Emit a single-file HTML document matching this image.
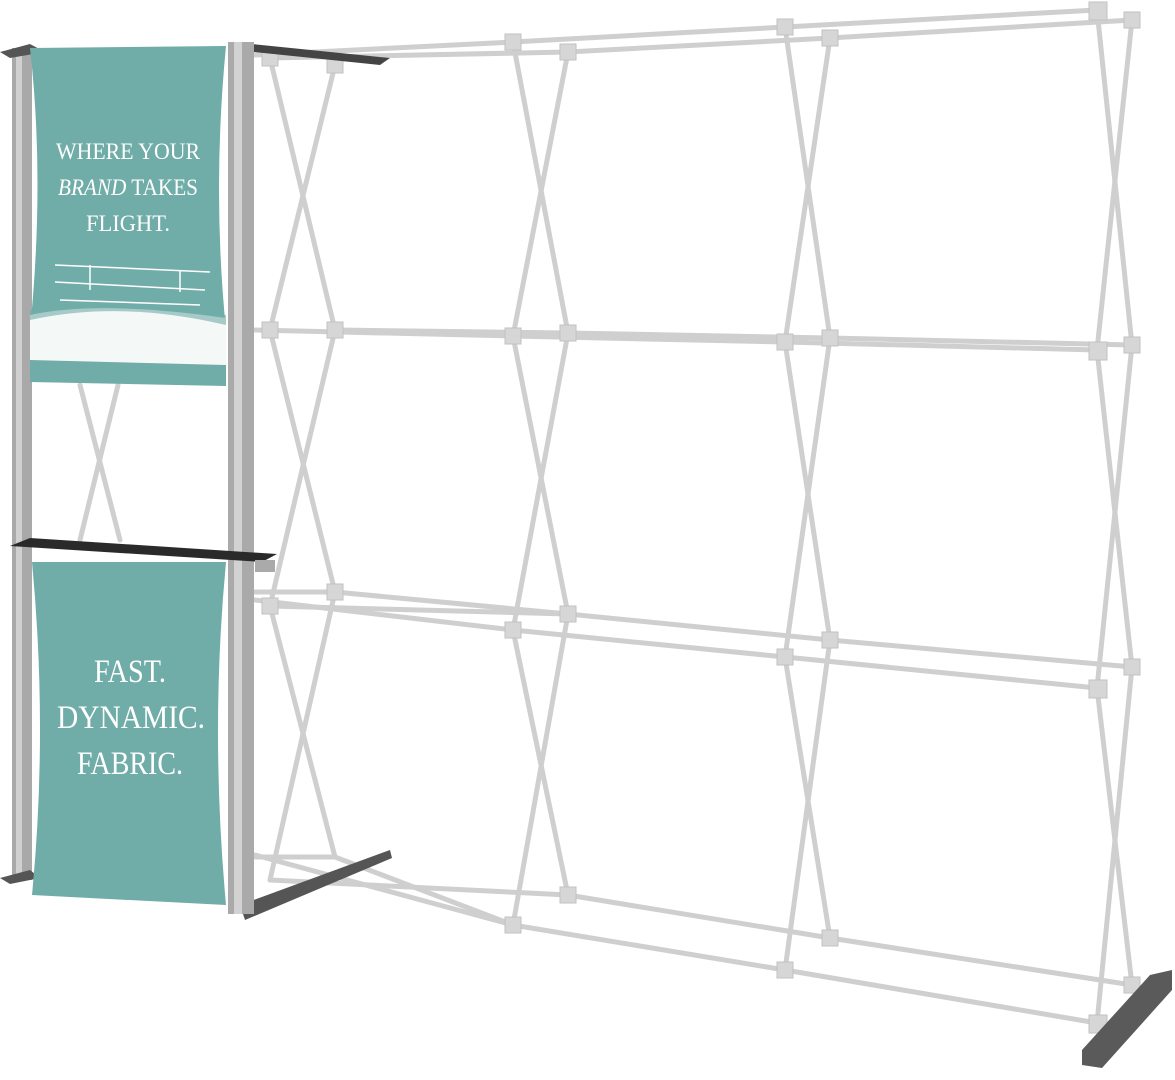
<!DOCTYPE html>
<html><head><meta charset="utf-8"><style>
html,body{margin:0;padding:0;background:#fff;width:1175px;height:1080px;overflow:hidden}
svg{display:block}
</style></head><body>
<svg width="1175" height="1080" viewBox="0 0 1175 1080" xmlns="http://www.w3.org/2000/svg">
<g stroke="#cfcfcf" stroke-width="5" fill="none" stroke-linecap="round">
<polyline points="255,55 513,42 785,27 1097,10"/>
<polyline points="270,58 568,52 830,38 1132,20"/>
<polyline points="255,330 513,336 785,342 1097,350"/>
<polyline points="335,330 568,333 830,338 1132,345"/>
<polyline points="255,600 513,630 785,657 1097,688"/>
<polyline points="270,606 568,614 830,640 1132,667"/>
<polyline points="255,592 335,592 568,614"/>
<polyline points="255,855 513,925 785,970 1097,1023"/>
<polyline points="270,880 568,895 830,938 1132,985"/>
<polyline points="255,857 335,857 513,925"/>
<line x1="270" y1="58" x2="335" y2="330"/><line x1="335" y1="65" x2="270" y2="330"/>
<line x1="270" y1="330" x2="335" y2="592"/><line x1="335" y1="330" x2="270" y2="606"/>
<line x1="270" y1="606" x2="335" y2="857"/><line x1="335" y1="592" x2="270" y2="880"/>
<line x1="513" y1="42" x2="568" y2="333"/><line x1="568" y1="52" x2="513" y2="336"/>
<line x1="513" y1="336" x2="568" y2="614"/><line x1="568" y1="333" x2="513" y2="630"/>
<line x1="513" y1="630" x2="568" y2="895"/><line x1="568" y1="614" x2="513" y2="925"/>
<line x1="785" y1="27" x2="830" y2="338"/><line x1="830" y1="38" x2="785" y2="342"/>
<line x1="785" y1="342" x2="830" y2="640"/><line x1="830" y1="338" x2="785" y2="657"/>
<line x1="785" y1="657" x2="830" y2="938"/><line x1="830" y1="640" x2="785" y2="970"/>
<line x1="1097" y1="10" x2="1132" y2="345"/><line x1="1132" y1="20" x2="1097" y2="350"/>
<line x1="1097" y1="350" x2="1132" y2="667"/><line x1="1132" y1="345" x2="1097" y2="688"/>
<line x1="1097" y1="688" x2="1132" y2="985"/><line x1="1132" y1="667" x2="1097" y2="1023"/>
<line x1="80" y1="385" x2="120" y2="540"/><line x1="118" y1="385" x2="80" y2="540"/>
</g>
<g fill="#d6d6d6" stroke="#c2c2c2" stroke-width="1">
<rect x="505" y="34" width="16" height="16"/><rect x="560" y="44" width="16" height="16"/>
<rect x="777" y="19" width="16" height="16"/><rect x="822" y="30" width="16" height="16"/>
<rect x="1089" y="2" width="18" height="18"/><rect x="1124" y="12" width="16" height="16"/>
<rect x="327" y="57" width="16" height="16"/><rect x="262" y="50" width="16" height="16"/>
<rect x="505" y="328" width="16" height="16"/><rect x="560" y="325" width="16" height="16"/>
<rect x="777" y="334" width="16" height="16"/><rect x="822" y="330" width="16" height="16"/>
<rect x="1089" y="342" width="18" height="18"/><rect x="1124" y="337" width="16" height="16"/>
<rect x="327" y="322" width="16" height="16"/><rect x="262" y="322" width="16" height="16"/>
<rect x="505" y="622" width="16" height="16"/><rect x="560" y="606" width="16" height="16"/>
<rect x="777" y="649" width="16" height="16"/><rect x="822" y="632" width="16" height="16"/>
<rect x="1089" y="680" width="18" height="18"/><rect x="1124" y="659" width="16" height="16"/>
<rect x="327" y="584" width="16" height="16"/><rect x="262" y="598" width="16" height="16"/>
<rect x="505" y="917" width="16" height="16"/><rect x="560" y="887" width="16" height="16"/>
<rect x="777" y="962" width="16" height="16"/><rect x="822" y="930" width="16" height="16"/>
<rect x="1089" y="1015" width="18" height="18"/><rect x="1124" y="977" width="16" height="16"/>
</g>
<polygon points="1082,1050 1150,975 1172,970 1172,990 1102,1068 1082,1065" fill="#5a5a5a"/>
<polygon points="240,905 390,850 392,858 245,920" fill="#555"/>
<polygon points="232,42 390,58 380,65 235,50" fill="#444"/>
<rect x="12" y="48" width="20" height="832" fill="#a9a9a9"/>
<rect x="16" y="48" width="6" height="832" fill="#d0d0d0"/>
<rect x="228" y="42" width="26" height="872" fill="#aaa"/>
<rect x="234" y="42" width="8" height="872" fill="#d2d2d2"/>
<polygon points="0,52 30,44 45,52 10,58" fill="#555"/>
<polygon points="0,878 30,870 40,878 10,884" fill="#555"/>
<path d="M30,48 Q45,180 30,330 L30,382 L226,386 L226,330 Q212,190 226,46 Z" fill="#70aca8"/>
<path d="M30,315 Q100,300 226,318 L226,365 L30,360 Z" fill="#f4f8f7"/>
<path d="M30,310 Q120,295 226,315 L226,325 Q120,300 30,320 Z" fill="#70aca8" opacity="0.6"/>
<g font-family="Liberation Serif, serif" fill="#fff" text-anchor="middle" font-size="23">
<text x="128" y="159" textLength="144" lengthAdjust="spacingAndGlyphs">WHERE YOUR</text>
<text x="128" y="195" textLength="140" lengthAdjust="spacingAndGlyphs"><tspan font-style="italic">BRAND</tspan> TAKES</text>
<text x="128" y="231" textLength="84" lengthAdjust="spacingAndGlyphs">FLIGHT.</text>
</g>
<g stroke="#fff" stroke-width="1.5" fill="none">
<line x1="55" y1="265" x2="210" y2="272"/><line x1="55" y1="282" x2="205" y2="290"/>
<line x1="90" y1="265" x2="90" y2="290"/><line x1="180" y1="270" x2="180" y2="292"/>
<path d="M60,300 L200,305"/>
</g>
<polygon points="10,546 30,538 277,554 262,562" fill="#2a2a2a"/>
<rect x="255" y="560" width="20" height="12" fill="#aaa"/>
<path d="M32,562 Q48,730 32,895 L226,905 Q210,730 226,562 Z" fill="#70aca8"/>
<g font-family="Liberation Serif, serif" fill="#fff" text-anchor="middle" font-size="33">
<text x="130" y="682" textLength="72" lengthAdjust="spacingAndGlyphs">FAST.</text>
<text x="131" y="728" textLength="148" lengthAdjust="spacingAndGlyphs">DYNAMIC.</text>
<text x="130" y="774" textLength="106" lengthAdjust="spacingAndGlyphs">FABRIC.</text>
</g>
</svg>
</body></html>
